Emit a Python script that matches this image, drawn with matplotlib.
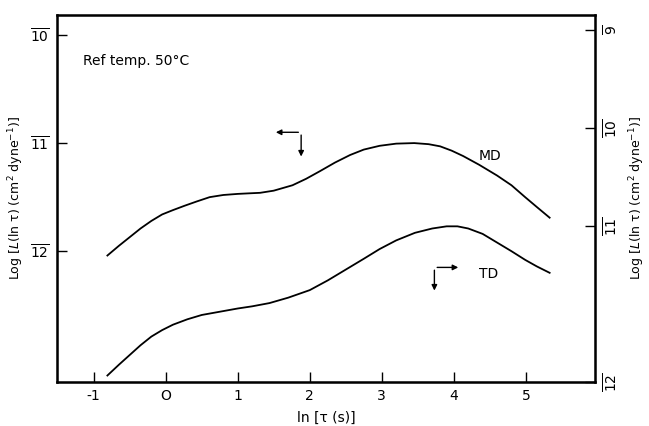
import matplotlib.pyplot as plt

# ln(tau) and log L values
md_x = [-0.81, -0.65, -0.5, -0.35, -0.2, -0.05, 0.1, 0.26, 0.43, 0.61, 0.8, 1.0, 1.15, 1.31, 1.5, 1.76, 1.95, 2.14, 2.35, 2.56,
        2.75, 2.97, 3.2, 3.45, 3.65, 3.81, 3.97, 4.13, 4.35, 4.6, 4.8, 4.99, 5.15, 5.33]
md_y = [-12.04, -11.95, -11.87, -11.79, -11.72, -11.66, -11.62, -11.58, -11.54, -11.5, -11.48, -11.47, -11.465, -11.46, -11.44, -11.39, -11.33, -11.26, -11.18, -11.11,
        -11.06, -11.025, -11.005, -11.0, -11.01, -11.03, -11.07, -11.12, -11.2, -11.3, -11.39, -11.5, -11.59, -11.69]

td_x = [-0.81, -0.65, -0.5, -0.35, -0.2, -0.05, 0.1, 0.3, 0.5, 0.75, 1.0, 1.2, 1.44, 1.7, 2.0, 2.25, 2.5, 2.75, 2.97, 3.2,
        3.46, 3.7, 3.9, 4.05, 4.2, 4.4, 4.6, 4.8, 4.99, 5.15, 5.33]
td_y = [-13.15, -13.05, -12.96, -12.87, -12.79, -12.73, -12.68, -12.63, -12.59, -12.56, -12.53, -12.51, -12.48, -12.43, -12.36, -12.27, -12.17, -12.07, -11.98, -11.9,
        -11.83, -11.79, -11.77, -11.77, -11.79, -11.84, -11.92, -12.0, -12.08, -12.14, -12.2]

x_ticks = [-1, 0, 1, 2, 3, 4, 5]
x_labels = ['-1', 'O', '1', '2', '3', '4', '5']
left_ticks = [-10, -11, -12]
left_labels = [r'$\overline{10}$', r'$\overline{11}$', r'$\overline{12}$']
right_ticks = [-9.95, -10.86, -11.77, -13.21]
right_labels = [r'$\overline{9}$', r'$\overline{10}$', r'$\overline{11}$', r'$\overline{12}$']

plt.rcParams['font.family'] = ['DejaVu Sans']
plt.rcParams['mathtext.fontset'] = 'dejavusans'

fig = plt.figure(figsize=(6.49, 4.26), dpi=100)
ax = fig.add_axes([0.0878, 0.1033, 0.829, 0.8615])

ax.plot(md_x, md_y, color='black', lw=1.3)
ax.plot(td_x, td_y, color='black', lw=1.3)

ax.set_xlim(-1.51, 5.96)
ax.set_ylim(-13.21, -9.815)

ax.set_xticks(x_ticks)
ax.set_xticklabels(x_labels)
ax.set_yticks(left_ticks)
ax.set_yticklabels(left_labels)
ax.tick_params(direction='in', length=7, width=1, labelsize=10, pad=5)

for s in ax.spines.values():
    s.set_linewidth(1.8)

ax2 = ax.twinx()
ax2.set_ylim(ax.get_ylim())
ax2.set_yticks(right_ticks)
ax2.set_yticklabels(right_labels, rotation=90, va='center')
ax2.tick_params(direction='in', length=7, width=1, labelsize=10, pad=5)

ylab = 'Log [$L$(ln τ) (cm$^2$ dyne$^{-1}$)]'
ax.set_ylabel(ylab, fontsize=9, labelpad=3)
ax2.set_ylabel(ylab, fontsize=9, rotation=90, labelpad=5)
ax.set_xlabel('ln [τ (s)]', fontsize=10, labelpad=6)

ax.text(-1.15, -10.28, 'Ref temp. 50°C', fontsize=10)
ax.text(4.35, -11.16, 'MD', fontsize=10)
ax.text(4.35, -12.25, 'TD', fontsize=10)

# direction markers for the axes
ax.annotate('', xy=(1.49, -10.9), xytext=(1.88, -10.9),
            arrowprops=dict(arrowstyle='-|>', color='black', lw=1, mutation_scale=8))
ax.annotate('', xy=(1.88, -11.15), xytext=(1.88, -10.9),
            arrowprops=dict(arrowstyle='-|>', color='black', lw=1, mutation_scale=8))
ax.annotate('', xy=(4.1, -12.15), xytext=(3.73, -12.15),
            arrowprops=dict(arrowstyle='-|>', color='black', lw=1, mutation_scale=8))
ax.annotate('', xy=(3.73, -12.39), xytext=(3.73, -12.15),
            arrowprops=dict(arrowstyle='-|>', color='black', lw=1, mutation_scale=8))

plt.savefig('out.png', dpi=100)
